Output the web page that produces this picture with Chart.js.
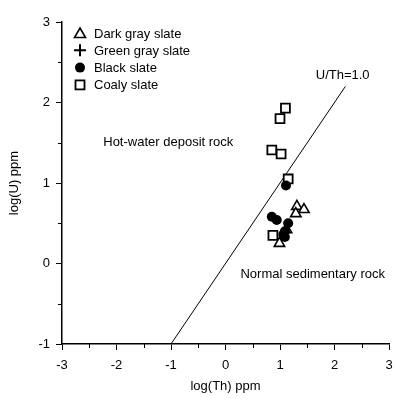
<!DOCTYPE html>
<html>
<head>
<meta charset="utf-8">
<script src="https://cdn.jsdelivr.net/npm/chart.js@4.4.0/dist/chart.umd.min.js"></script>
<style>
  html, body { margin: 0; padding: 0; background: #fff; }
  #wrap { width: 398px; height: 399px; }
</style>
</head>
<body>
<div id="wrap"><canvas id="chart" width="398" height="399"></canvas></div>
<script>
// data
const darkGray = [
    { x: 1.31, y: 0.71 },
    { x: 1.44, y: 0.67 },
    { x: 1.29, y: 0.62 },
    { x: 1.12, y: 0.42 },
    { x: 0.99, y: 0.25 }
];
const greenGray = [];
const blackSlate = [
    { x: 1.11, y: 0.97 },
    { x: 0.85, y: 0.58 },
    { x: 0.94, y: 0.54 },
    { x: 1.15, y: 0.50 },
    { x: 1.09, y: 0.40 },
    { x: 1.06, y: 0.36 },
    { x: 1.09, y: 0.33 }
];
const coalySlate = [
    { x: 1.10, y: 1.93 },
    { x: 1.00, y: 1.80 },
    { x: 0.85, y: 1.41 },
    { x: 1.02, y: 1.36 },
    { x: 1.15, y: 1.05 },
    { x: 0.87, y: 0.35 }
];
const ratioLine = [{ x: -1, y: -1 }, { x: 2.2, y: 2.2 }];

const xTicks = [-3, -2, -1, 0, 1, 2, 3];
const yTicks = [-1, 0, 1, 2, 3];

const notes = [
    { text: 'U/Th=1.0', x: 2.15, y: 2.34 },
    { text: 'Hot-water deposit rock', x: -1.05, y: 1.50 },
    { text: 'Normal sedimentary rock', x: 1.6, y: -0.14 }
];

const legendItems = ['Dark gray slate', 'Green gray slate', 'Black slate', 'Coaly slate'];

const FONT = 'Arial, "Liberation Sans", sans-serif';

function drawMarker(ctx, kind, x, y) {
    ctx.save();
    ctx.strokeStyle = '#000';
    ctx.fillStyle = '#000';
    if (kind === 0) {
        ctx.lineWidth = 1.6;
        ctx.beginPath();
        ctx.moveTo(x, y - 5);
        ctx.lineTo(x + 5.5, y + 4.5);
        ctx.lineTo(x - 5.5, y + 4.5);
        ctx.closePath();
        ctx.stroke();
    } else if (kind === 1) {
        ctx.lineWidth = 2;
        ctx.beginPath();
        ctx.moveTo(x - 6, y); ctx.lineTo(x + 6, y);
        ctx.moveTo(x, y - 6); ctx.lineTo(x, y + 6);
        ctx.stroke();
    } else if (kind === 2) {
        ctx.beginPath();
        ctx.arc(x, y, 5, 0, Math.PI * 2);
        ctx.fill();
    } else {
        ctx.lineWidth = 1.8;
        ctx.strokeRect(x - 4.5, y - 4.5, 9, 9);
    }
    ctx.restore();
}

// legend, notes and minor ticks
const extras = {
    id: 'extras',
    afterDraw(chart) {
        const ctx = chart.ctx;
        const xs = chart.scales.x, ys = chart.scales.y;
        const area = chart.chartArea;

        ctx.save();
        ctx.strokeStyle = '#000';
        ctx.lineWidth = 1;
        for (let v = -2.5; v < 3; v += 1) {
            const px = Math.round(xs.getPixelForValue(v)) + 0.5;
            ctx.beginPath();
            ctx.moveTo(px, area.bottom);
            ctx.lineTo(px, area.bottom + 4);
            ctx.stroke();
        }
        for (let v = -0.5; v < 3; v += 1) {
            const py = Math.round(ys.getPixelForValue(v)) + 0.5;
            ctx.beginPath();
            ctx.moveTo(area.left, py);
            ctx.lineTo(area.left - 4, py);
            ctx.stroke();
        }

        ctx.fillStyle = '#000';
        ctx.font = '13px ' + FONT;
        ctx.textAlign = 'center';
        ctx.textBaseline = 'middle';
        notes.forEach(n => {
            ctx.fillText(n.text, xs.getPixelForValue(n.x), ys.getPixelForValue(n.y));
        });

        ctx.textAlign = 'left';
        legendItems.forEach((label, i) => {
            const y = area.top + 11 + i * 17.3;
            drawMarker(ctx, i, area.left + 18, y);
            ctx.fillText(label, area.left + 32, y + 1);
        });
        ctx.restore();
    }
};

new Chart(document.getElementById('chart'), {
    type: 'scatter',
    data: {
        datasets: [
            {
                label: 'Black slate', data: blackSlate, order: 1,
                pointStyle: 'circle', pointRadius: 5, backgroundColor: '#000', borderColor: '#000', borderWidth: 0
            },
            {
                label: 'Coaly slate', data: coalySlate, order: 2,
                pointStyle: 'rect', pointRadius: 6.3, backgroundColor: '#fff', borderColor: '#000', borderWidth: 1.8
            },
            {
                label: 'Dark gray slate', data: darkGray, order: 3,
                pointStyle: 'triangle', pointRadius: 6, backgroundColor: '#fff', borderColor: '#000', borderWidth: 1.6
            },
            {
                label: 'Green gray slate', data: greenGray, order: 4,
                pointStyle: 'cross', pointRadius: 6, borderColor: '#000', borderWidth: 2
            },
            {
                type: 'line', label: 'U/Th=1.0', data: ratioLine, order: 5,
                borderColor: '#000', borderWidth: 1, pointRadius: 0, fill: false
            }
        ]
    },
    options: {
        responsive: false,
        animation: false,
        layout: { padding: { top: 22, right: 9, left: 0, bottom: 0 } },
        plugins: { legend: { display: false }, tooltip: { enabled: false } },
        scales: {
            x: {
                type: 'linear', min: -3, max: 3,
                afterBuildTicks: s => { s.ticks = xTicks.map(v => ({ value: v })); },
                afterFit: s => { s.height = 55; s.paddingLeft = 0; s.paddingRight = 0; },
                border: { display: true, color: '#000', width: 1.5 },
                grid: { drawOnChartArea: false, color: '#000', tickLength: 6, tickWidth: 1 },
                ticks: { color: '#000', font: { family: FONT, size: 13 }, padding: 8, maxRotation: 0 },
                title: { display: true, text: 'log(Th) ppm', color: '#000', font: { family: FONT, size: 13 }, padding: { top: 0, bottom: 5 } }
            },
            y: {
                type: 'linear', min: -1, max: 3,
                afterBuildTicks: s => { s.ticks = yTicks.map(v => ({ value: v })); },
                afterFit: s => { s.width = 62; s.paddingTop = 0; s.paddingBottom = 0; },
                border: { display: true, color: '#000', width: 1.5 },
                grid: { drawOnChartArea: false, color: '#000', tickLength: 6, tickWidth: 1 },
                ticks: { color: '#000', font: { family: FONT, size: 13 }, padding: 6 },
                title: { display: true, text: 'log(U) ppm', color: '#000', font: { family: FONT, size: 13 }, padding: { top: 7, bottom: 0 } }
            }
        }
    },
    plugins: [extras]
});
</script>
</body>
</html>
